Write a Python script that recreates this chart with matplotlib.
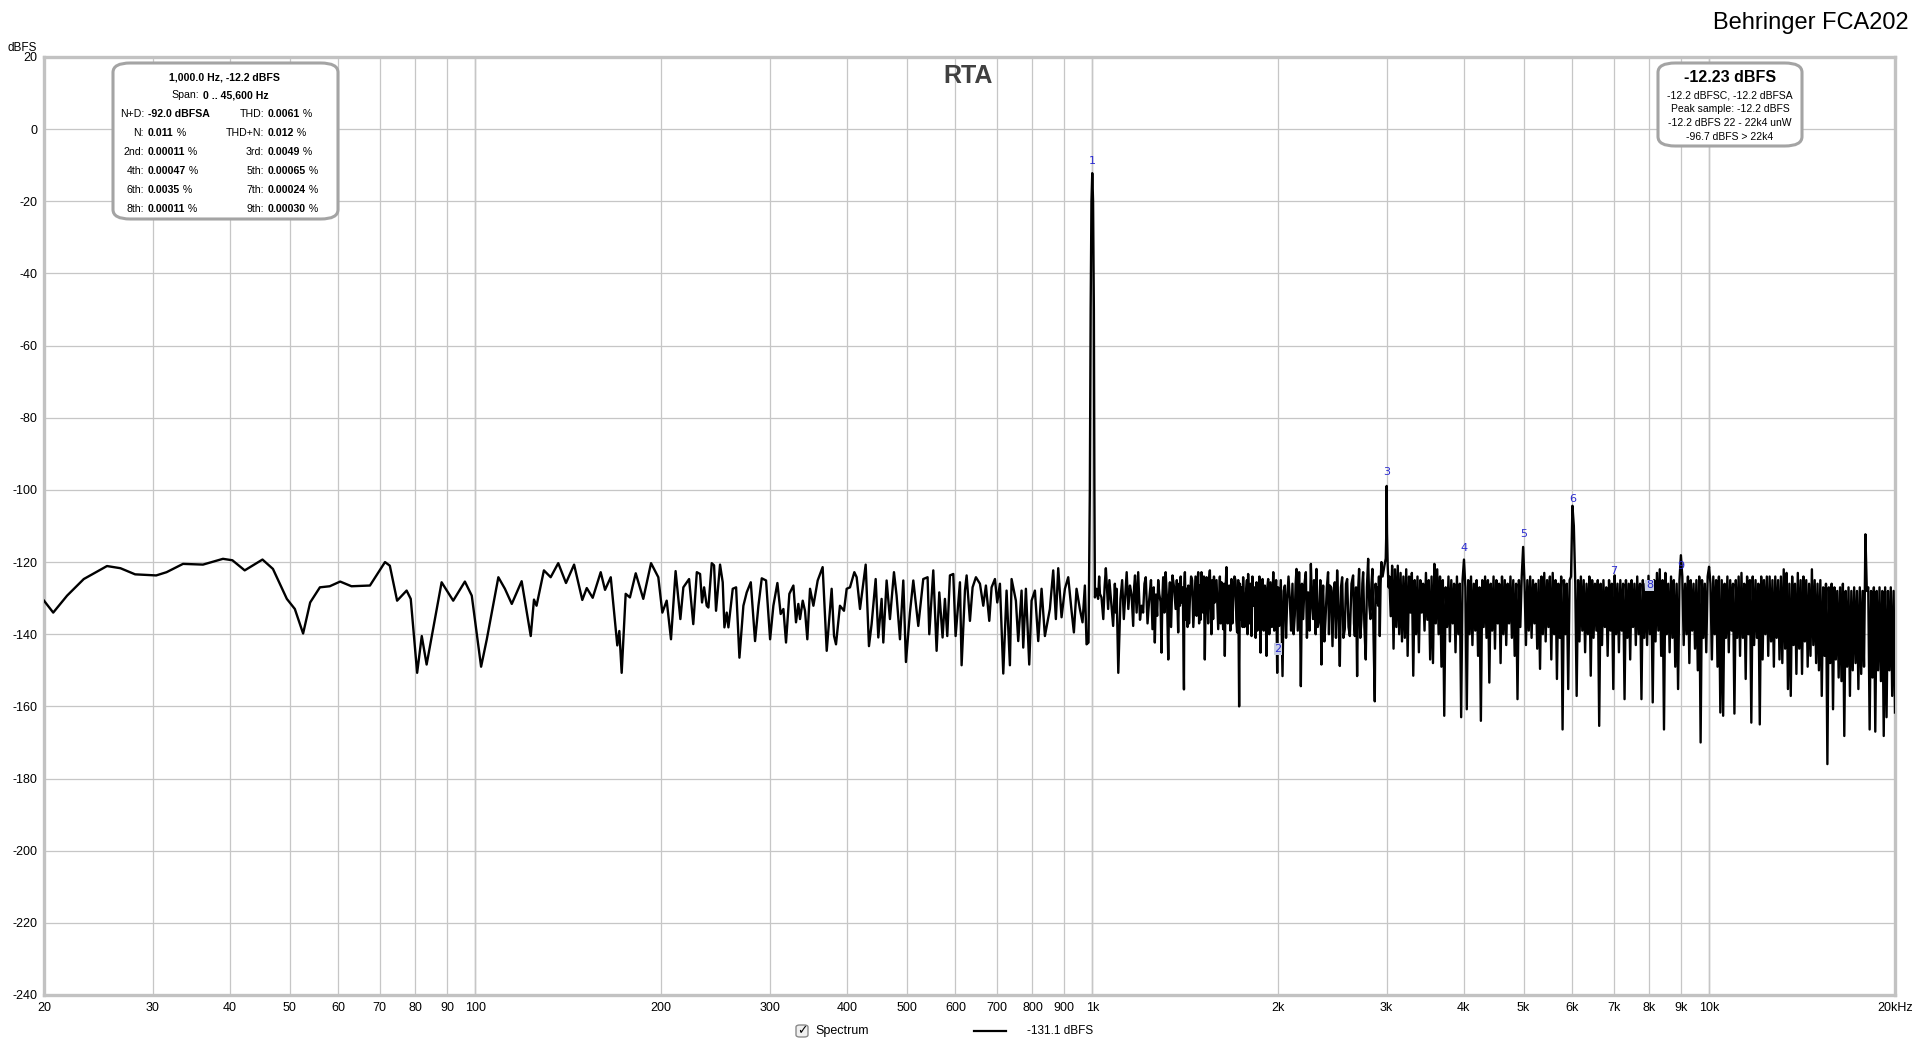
import numpy as np
import matplotlib.pyplot as plt
from matplotlib.patches import FancyBboxPatch

# ---- readings taken off the RTA screenshot (Hz, dBFS) ----
low_band = [
    (20.0, -130.7), (20.7, -134.0), (21.8, -129.3), (23.2, -124.7), (25.3, -121.1),
    (26.6, -121.7), (28.1, -123.4), (30.4, -123.7), (31.6, -122.8), (33.6, -120.5),
    (36.2, -120.7), (39.0, -119.1), (40.4, -119.5), (42.3, -122.3), (45.2, -119.3),
    (47.0, -121.9), (49.5, -130.2), (51.0, -133.0), (52.6, -139.8), (54.0, -131.2),
    (56.0, -127.0), (58.1, -126.7), (60.4, -125.4), (63.0, -126.7), (67.5, -126.5),
    (71.4, -120.0), (72.7, -121.0), (74.7, -130.7), (77.4, -127.9), (78.6, -130.2),
    (80.5, -150.7), (81.9, -140.5), (83.4, -148.4), (88.2, -125.6), (92.1, -130.7),
    (96.2, -125.4), (98.7, -129.3), (102.2, -149.0), (104.4, -141.4), (109.0, -124.2),
    (111.7, -127.4), (114.6, -131.6), (118.9, -125.3), (123.0, -140.5), (124.5, -130.4),
    (125.7, -132.1), (129.2, -122.3), (132.5, -124.2), (136.3, -120.3), (140.3, -125.8),
    (144.6, -120.7), (149.1, -130.5), (151.6, -127.2), (155.0, -129.9), (159.7, -122.8),
    (162.3, -127.7), (165.8, -124.2), (169.9, -143.1), (171.2, -139.1), (172.7, -150.7),
    (175.3, -128.8), (178.1, -129.8), (182.0, -123.1), (187.2, -130.2), (192.7, -120.3),
    (198.0, -124.2), (201.0, -134.0), (204.3, -130.7), (207.6, -141.4), (211.2, -122.5),
    (215.0, -135.8), (217.4, -127.0), (222.1, -124.7), (225.6, -137.2),
]

mid_band = [
    (228.6, -122.8), (231.4, -123.3), (233.1, -131.2), (234.9, -127.0), (237.2, -132.1),
    (238.7, -132.6), (241.7, -120.3), (243.8, -120.9), (245.6, -133.5), (249.3, -120.7),
    (251.8, -125.6), (253.4, -138.1), (255.6, -134.0), (257.2, -138.1), (258.8, -134.0),
    (261.4, -127.4), (264.7, -127.0), (268.0, -146.5), (272.0, -132.1), (275.4, -128.4),
    (279.6, -125.6), (284.1, -141.9), (287.7, -132.1), (291.3, -124.5), (296.0, -125.1),
    (300.5, -141.4), (304.2, -132.1), (308.8, -125.8), (312.6, -134.4), (315.8, -133.0),
    (318.9, -142.3), (322.9, -128.8), (327.8, -126.5), (331.0, -136.7), (333.9, -131.6),
    (336.0, -135.8), (339.4, -130.7), (342.3, -133.5), (345.3, -141.4), (348.8, -127.4),
    (353.2, -132.1), (358.9, -125.1), (365.6, -121.4), (371.2, -144.6), (378.1, -127.4),
    (381.5, -140.5), (384.3, -142.8), (390.0, -132.1), (395.9, -133.5), (399.9, -127.4),
    (404.9, -127.0), (411.5, -122.8), (415.1, -124.2), (420.3, -133.0), (429.3, -120.7),
    (434.6, -143.3), (438.9, -137.2), (445.6, -124.7), (450.0, -140.9), (455.6, -130.2),
    (458.5, -142.3), (464.2, -125.1), (470.0, -135.8), (477.1, -122.8), (481.8, -129.3),
    (487.9, -141.4), (494.0, -125.1), (498.9, -147.7), (506.4, -134.0), (512.8, -125.1),
    (522.4, -137.7), (532.2, -124.7), (540.9, -124.2), (544.3, -140.0), (552.5, -122.3),
    (559.4, -144.6), (565.0, -128.4), (572.0, -140.9), (577.0, -130.2), (582.1, -140.5),
    (587.9, -123.7), (595.3, -123.3), (600.5, -140.5), (610.3, -125.6), (614.1, -148.6),
    (621.8, -127.9), (625.7, -123.7), (633.5, -136.3), (639.8, -127.0), (647.8, -124.2),
    (657.6, -126.0), (665.8, -132.1), (672.4, -126.5), (680.9, -136.3), (686.8, -127.0),
    (695.4, -124.7), (701.5, -131.2), (708.5, -126.0), (717.4, -150.9), (726.3, -127.9),
    (735.4, -148.6), (740.0, -124.7), (752.0, -130.7), (758.6, -141.9), (768.1, -127.9),
    (772.9, -143.7), (780.6, -127.4), (790.4, -148.4), (797.3, -130.7), (807.3, -127.9),
    (817.4, -141.9), (827.6, -127.4), (838.0, -140.5), (853.7, -133.0), (864.4, -122.3),
    (873.0, -135.8), (880.7, -121.7), (891.7, -135.3), (902.9, -127.4), (914.2, -124.2),
    (925.6, -133.5), (933.7, -139.5), (943.0, -127.4), (954.8, -133.0), (964.3, -136.7),
    (972.8, -126.5), (978.9, -142.8), (986.1, -142.3),
]

fundamental = [
    (988, -125.0), (991, -100.0), (994, -50.0), (997, -20.0), (1000, -12.2),
    (1003, -20.0), (1006, -50.0), (1008, -100.0), (1010, -129.8),
]

upper_band = [
    (1016, -127.4), (1022, -130.2), (1026, -124), (1029, -128.8), (1035, -129.8),
    (1042, -135.8), (1047, -127), (1052, -121.7), (1061, -133.0), (1066, -125),
    (1071, -129.3), (1081, -137.7), (1088, -126.0), (1092, -134), (1095, -127.4),
    (1102, -150.7), (1111, -130.2), (1118, -125), (1125, -135.8), (1137, -122.8),
    (1144, -133), (1151, -126.5), (1158, -129), (1165, -137.7), (1169, -127),
    (1173, -123.7), (1180, -134), (1187, -122.8), (1195, -136), (1202, -132.1),
    (1209, -134.0), (1215, -126), (1221, -124.2), (1229, -137), (1237, -130.2),
    (1245, -125), (1252, -138.6), (1258, -127), (1263, -142.3), (1268, -129),
    (1274, -134.9), (1279, -125), (1284, -128.8), (1290, -131), (1295, -145.1),
    (1299, -130), (1303, -124.2), (1309, -134), (1315, -122.8), (1322, -131),
    (1328, -147.0), (1332, -129), (1336, -125.6), (1342, -138), (1349, -123.7),
    (1357, -127), (1365, -133.0), (1371, -125), (1378, -139.5), (1383, -126),
    (1387, -132.1), (1391, -124), (1395, -131.2), (1402, -127), (1408, -155.3),
    (1410, -126), (1413, -122.8), (1418, -136), (1422, -127.4), (1427, -138),
    (1431, -126.5), (1435, -137), (1439, -131.2), (1446, -124), (1452, -125.1),
    (1458, -138), (1465, -129.8), (1470, -124), (1476, -134.9), (1480, -126),
    (1485, -122.8), (1490, -137), (1494, -126.5), (1498, -136), (1503, -122.8),
    (1512, -134), (1517, -124), (1522, -147.0), (1527, -129), (1532, -124.2),
    (1541, -137), (1546, -125), (1551, -122.3), (1560, -140), (1565, -125),
    (1570, -135.8), (1575, -124), (1580, -131.2), (1590, -125), (1600, -138.6),
    (1610, -124), (1615, -137), (1620, -125.6), (1625, -134), (1630, -138.6),
    (1635, -126), (1640, -146.0), (1645, -127), (1650, -121.4), (1658, -137),
    (1667, -126.5), (1674, -139), (1681, -124.7), (1687, -137), (1692, -131.2),
    (1700, -124), (1707, -125.1), (1712, -136), (1717, -139.5), (1724, -125),
    (1730, -160.0), (1735, -126), (1739, -135.8), (1748, -127), (1752, -138),
    (1756, -124.2), (1765, -138), (1774, -129.3), (1781, -125), (1785, -140),
    (1789, -123.3), (1800, -137), (1806, -126), (1812, -140.5), (1818, -124),
    (1823, -132.1), (1834, -127), (1840, -141), (1846, -125.6), (1852, -139),
    (1857, -130.2), (1866, -124), (1874, -145.1), (1881, -127), (1888, -124.7),
    (1896, -139), (1904, -126.5), (1910, -132), (1916, -146.0), (1922, -127),
    (1928, -124.7), (1936, -140), (1945, -125.6), (1955, -138), (1965, -122.8),
    (1972, -139), (1979, -134.0), (1986, -125), (1994, -150.7), (2001, -127),
    (2009, -137.7), (2021, -125), (2034, -151.6), (2043, -128), (2052, -126.5),
    (2061, -141), (2070, -130.2), (2080, -124), (2090, -130.2), (2100, -139),
    (2111, -126.0), (2120, -140), (2129, -134.9), (2136, -126), (2143, -121.9),
    (2153, -139), (2164, -122.8), (2171, -133), (2178, -154.4), (2187, -126),
    (2197, -135.8), (2208, -126), (2219, -122.8), (2228, -141), (2238, -128.4),
    (2250, -139), (2261, -120.5), (2270, -131), (2280, -135.8), (2288, -125),
    (2295, -132.1), (2302, -140), (2309, -121.9), (2320, -138), (2332, -135.8),
    (2342, -125), (2352, -148.4), (2360, -131), (2367, -126.5), (2378, -142),
    (2388, -135.8), (2400, -127), (2411, -122.8), (2419, -140), (2427, -126.5),
    (2439, -127), (2451, -143.3), (2462, -128), (2472, -125.6), (2483, -141),
    (2494, -122.3), (2506, -133), (2519, -148.8), (2530, -127), (2541, -124.2),
    (2553, -141), (2566, -138.6), (2578, -126), (2589, -124.7), (2602, -138),
    (2615, -140.5), (2631, -126), (2647, -123.7), (2656, -137), (2664, -140.5),
    (2676, -127), (2687, -151.6), (2697, -128), (2707, -121.9), (2719, -141),
    (2731, -135.8), (2740, -126), (2748, -122.8), (2761, -138), (2775, -147.0),
    (2787, -127), (2800, -119.1), (2812, -132), (2824, -135.8), (2835, -126),
    (2845, -121.9), (2857, -141), (2870, -158.6), (2879, -126), (2888, -131.2),
    (2897, -127), (2906, -132.1), (2915, -124), (2924, -140.5), (2933, -126),
    (2942, -120.0), (2955, -124.0), (2975, -121.0), (2990, -119.0), (2996, -112.0),
    (3000, -98.9), (3004, -112.0), (3012, -121.0), (3022, -127.0),
]

# dense part: levels read column by column, evenly along the log axis
dense_from, dense_to = 3030, 20000
dense_db = [
    -124, -135, -121, -144, -122, -138, -121, -140, -123, -142,
    -124, -141, -122, -146, -124, -134, -123, -151.5, -125, -140,
    -124, -145, -125, -134, -126, -139, -123, -136, -125, -147,
    -124, -148, -120.5, -137, -122, -140, -124, -149, -125, -162.6,
    -127, -138, -124, -142, -125, -137, -126, -145, -124, -140,
    -126, -163, -125, -119.3, -127, -160.8, -125, -140, -124, -143,
    -126, -139, -125, -146, -127, -164, -125, -138, -124, -141,
    -125, -153.4, -126, -139, -124, -144, -125, -137, -126, -148,
    -124, -140, -125, -143, -126, -137, -124, -141, -125, -146,
    -126, -158, -125, -138, -124, -115.8, -126, -143, -125, -139,
    -124, -141, -125, -137, -126, -144, -125, -149.6, -124, -140,
    -123, -142, -125, -138, -124, -147, -123, -140, -125, -152.4,
    -126, -141, -124, -166.4, -125, -140, -126, -155.2, -125, -124,
    -104.4, -110, -126, -157.1, -125, -142, -124, -139, -125, -145,
    -126, -140, -124, -151.5, -125, -141, -126, -139, -125, -165.4,
    -126, -143, -125, -138, -127, -146, -125, -139, -126, -155.2,
    -123.7, -140, -126, -145, -125, -139, -126, -158, -125, -141,
    -126, -147, -125, -138, -126, -143, -124, -140, -126, -158,
    -125, -141, -126, -143, -123.8, -140, -126, -158.9, -125, -142,
    -123, -139, -122, -146, -125, -166.4, -123, -140, -126, -145,
    -124, -141, -125, -149, -126, -155.2, -125, -118.1, -124, -143,
    -126, -140, -124, -148, -125, -139, -126, -144, -125, -150,
    -124, -170, -125, -141, -126, -145, -124, -121.3, -126, -147,
    -124, -140, -125, -149, -124, -161.7, -125, -162.6, -126, -141,
    -124, -145, -125, -139, -126, -162, -125, -141, -124, -146,
    -123, -141, -126, -152.4, -124, -140, -125, -164.5, -124, -143,
    -125, -141, -126, -165, -124, -147, -125, -140, -124, -146,
    -124, -142, -125, -149, -124, -141, -125, -147, -124, -148,
    -122, -144, -123, -155.2, -126, -157.1, -124, -143, -126, -151,
    -123, -144, -125, -151, -124, -142, -125, -149, -126, -146,
    -122, -143, -125, -148, -126, -150, -125, -157.1, -127, -146,
    -126, -176, -127, -148, -126, -160.8, -127, -147, -128, -152,
    -127, -153, -126, -168.2, -128, -149, -127, -157.1, -128, -150,
    -127, -148, -128, -155.2, -127, -151, -128, -149, -112.3, -128,
    -127, -166.4, -128, -152, -127, -167, -128, -150, -127, -153,
    -128, -168.2, -127, -163, -128, -150, -127, -157.1, -128, -161.7,
]

harm_num = ['1', '2', '3', '4', '5', '6', '7', '8', '9']
harm_freq = [1000, 2000, 3000, 4000, 5000, 6000, 7000, 8000, 9000]
harm_lbl_db = [-8.8, -144.1, -95.0, -116.0, -112.2, -102.4, -122.4, -126.4, -121.0]

x_ticks = [20, 30, 40, 50, 60, 70, 80, 90, 100, 200, 300, 400, 500, 600, 700, 800, 900,
           1000, 2000, 3000, 4000, 5000, 6000, 7000, 8000, 9000, 10000, 20000]
x_labels = ['20', '30', '40', '50', '60', '70', '80', '90', '100', '200', '300', '400',
            '500', '600', '700', '800', '900', '1k', '2k', '3k', '4k', '5k', '6k', '7k',
            '8k', '9k', '10k', '20kHz']
y_ticks = list(range(-240, 21, 20))

stats_left = [('N+D:', '-92.0 dBFSA', ''), ('N:', '0.011', '%'), ('2nd:', '0.00011', '%'),
              ('4th:', '0.00047', '%'), ('6th:', '0.0035', '%'), ('8th:', '0.00011', '%')]
stats_right = [('THD:', '0.0061', '%'), ('THD+N:', '0.012', '%'), ('3rd:', '0.0049', '%'),
               ('5th:', '0.00065', '%'), ('7th:', '0.00024', '%'), ('9th:', '0.00030', '%')]
level_lines = ['-12.2 dBFSC, -12.2 dBFSA', 'Peak sample: -12.2 dBFS',
               '-12.2 dBFS 22 - 22k4 unW', '-96.7 dBFS > 22k4']

# ---- assemble the trace ----
pts = low_band + mid_band + fundamental + upper_band
freq = np.array([p[0] for p in pts] + list(np.geomspace(dense_from, dense_to, len(dense_db))))
level = np.array([p[1] for p in pts] + dense_db)

SANS = ['Liberation Sans', 'DejaVu Sans']
NARROW = ['Liberation Sans Narrow', 'Liberation Sans', 'DejaVu Sans']
plt.rcParams['font.family'] = SANS

W, H = 1916, 1046
fig = plt.figure(figsize=(W / 100, H / 100), dpi=100)
ax = fig.add_axes([44 / W, 1 - 995 / H, (1895 - 44) / W, (995 - 57) / H])


def fx(x):
    return x / W


def fy(y):
    return 1 - y / H


ax.set_xscale('log')
ax.set_xlim(20, 20000)
ax.set_ylim(-240, 20)
ax.set_xticks(x_ticks)
ax.set_xticklabels(x_labels, family=NARROW, fontsize=9)
ax.xaxis.set_minor_locator(plt.NullLocator())
ax.set_yticks(y_ticks)
ax.set_yticklabels([str(v) for v in y_ticks], family=NARROW, fontsize=9)
ax.tick_params(length=0, pad=5)
ax.grid(True, color='#c6c6c6', lw=0.9, zorder=0)
for dec in (100, 1000, 10000):
    ax.axvline(dec, color='#8c8c8c', lw=0.9, zorder=1)
for s in ax.spines.values():
    s.set_color('#c2c2c2')
    s.set_linewidth(2.4)

ax.plot(freq, level, color='black', lw=1.7, zorder=3)

for n, f, v in zip(harm_num, harm_freq, harm_lbl_db):
    box = dict(boxstyle='square,pad=0.05', fc='#c9d0e4', ec='none') if n in ('2', '8') else None
    ax.text(f, v, n, color='#2a2ad0', fontsize=8, ha='center', va='center',
            family='DejaVu Sans', zorder=5, bbox=box)

fig.text(fx(968), fy(76), 'RTA', ha='center', va='center',
         fontsize=18, weight='bold', color='#404040')

fig.text(fx(1909), fy(23), 'Behringer FCA202', ha='right', va='center', fontsize=17)
fig.text(fx(8), fy(48), 'dBFS', ha='left', va='center', fontsize=8.5, family=NARROW)

# stats box on the left
fig.add_artist(FancyBboxPatch((fx(113), fy(219)), fx(338 - 113), (219 - 63) / H,
                              boxstyle='round,pad=0,rounding_size=0.009',
                              fc='white', ec='#a4a4a4', lw=2.2, transform=fig.transFigure,
                              zorder=6))
FS = 7.6
fig.text(fx(224), fy(77), '1,000.0 Hz, -12.2 dBFS', ha='center', va='center',
         fontsize=FS, weight='bold', zorder=7)
fig.text(fx(199), fy(95), 'Span:', ha='right', va='center', fontsize=FS, zorder=7)
fig.text(fx(203), fy(95), '0 .. 45,600 Hz', ha='left', va='center', fontsize=FS,
         weight='bold', zorder=7)


def stat(xc, y, name, val, unit):
    fig.text(fx(xc), fy(y), name, ha='right', va='center', fontsize=FS, zorder=7)
    t = fig.text(fx(xc + 4), fy(y), val, ha='left', va='center', fontsize=FS,
                 weight='bold', zorder=7)
    if unit:
        fig.add_artist(plt.Annotation(' ' + unit, xy=(1, 0.5), xycoords=t, ha='left',
                                      va='center', fontsize=FS, zorder=7))


for i, (a, b) in enumerate(zip(stats_left, stats_right)):
    y = 114 + 19 * i
    stat(144, y, *a)
    stat(264, y, *b)

# level box on the right
fig.add_artist(FancyBboxPatch((fx(1658), fy(146)), fx(1802 - 1658), (146 - 63) / H,
                              boxstyle='round,pad=0,rounding_size=0.009',
                              fc='white', ec='#a4a4a4', lw=2.2, transform=fig.transFigure,
                              zorder=6))
fig.text(fx(1730), fy(77), '-12.23 dBFS', ha='center', va='center', fontsize=11.5,
         weight='bold', zorder=7)
for i, s in enumerate(level_lines):
    fig.text(fx(1730), fy(95 + 14 * i), s, ha='center', va='center', fontsize=7.5, zorder=7)

# legend row under the axis
fig.add_artist(FancyBboxPatch((fx(796), fy(1037)), fx(12), 12 / H,
                              boxstyle='round,pad=0,rounding_size=0.002',
                              fc='#f0f0f0', ec='#8a8a8a', lw=1, transform=fig.transFigure))
fig.text(fx(802), fy(1031), '\u2713', ha='center', va='center', fontsize=9,
         family='DejaVu Sans', weight='bold')
fig.text(fx(815), fy(1031), 'Spectrum', ha='left', va='center', fontsize=9, family=NARROW)
fig.add_artist(plt.Line2D([fx(974), fx(1006)], [fy(1031), fy(1031)], color='black', lw=1.6,
                          transform=fig.transFigure))
fig.text(fx(1027), fy(1031), '-131.1 dBFS', ha='left', va='center', fontsize=8.5,
         family=NARROW)

fig.savefig('out.png', dpi=100, facecolor='white')
